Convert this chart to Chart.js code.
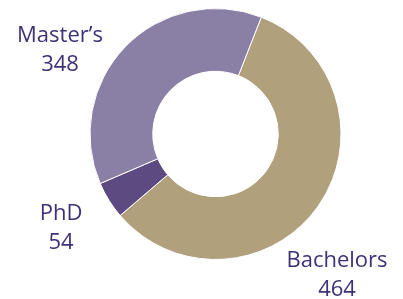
<!DOCTYPE html>
<html>
<head>
    <style>
        body { margin: 0; background: #fff; }
        #wrap { width: 403px; height: 299px; }
    </style>
    <script src="https://cdn.jsdelivr.net/npm/chart.js"></script>
</head>
<body>
    <div id="wrap"><canvas id="chart" width="403" height="299"></canvas></div>
    <script>
        // degree counts as printed on the chart
        const categories = ['Bachelors', 'PhD', 'Master\u2019s'];
        const counts = [464, 54, 348];
        // slice sizes (percent of the ring) as they are drawn in the picture;
        // the drawn angles don't quite follow the printed counts
        const sliceShares = [57.8, 4.8, 37.4];
        const sliceColors = ['#b0a07c', '#5d4a81', '#8a7fa5'];

        // where each label sits (center x, first baseline y)
        const labelSpots = [
            { x: 337, y: 267 },
            { x: 61, y: 220 },
            { x: 60, y: 42 }
        ];

        const outsideLabels = {
            id: 'outsideLabels',
            afterDraw(chart) {
                const ctx = chart.ctx;
                ctx.save();
                ctx.font = '22px "Open Sans"';
                ctx.fillStyle = '#403177';
                ctx.textAlign = 'center';
                ctx.textBaseline = 'alphabetic';
                categories.forEach((name, i) => {
                    const spot = labelSpots[i];
                    ctx.fillText(name, spot.x, spot.y);
                    ctx.fillText(String(counts[i]), spot.x, spot.y + 29);
                });
                ctx.restore();
            }
        };

        new Chart(document.getElementById('chart'), {
            type: 'doughnut',
            data: {
                labels: categories,
                datasets: [{
                    data: sliceShares,
                    backgroundColor: sliceColors,
                    borderColor: '#ffffff',
                    borderWidth: 1
                }]
            },
            options: {
                responsive: false,
                animation: false,
                cutout: '50%',
                rotation: 21.4,
                layout: { padding: { top: 8, bottom: 39, left: 28, right: 0 } },
                plugins: {
                    legend: { display: false },
                    tooltip: { enabled: false }
                }
            },
            plugins: [outsideLabels]
        });
    </script>
</body>
</html>
